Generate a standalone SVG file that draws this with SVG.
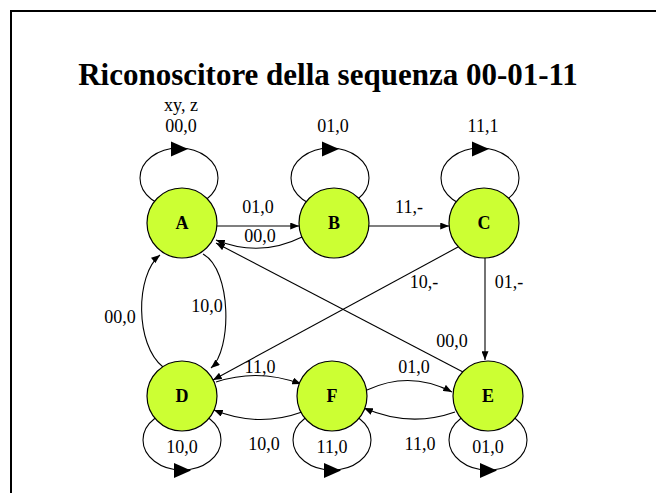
<svg xmlns="http://www.w3.org/2000/svg" width="656" height="493" viewBox="0 0 656 493">
<style>
.node{fill:#CCFF33;stroke:#000;stroke-width:1.2}
.lbl{font-family:'Liberation Serif',Tinos,'DejaVu Serif',serif;font-size:18px;text-anchor:middle;fill:#000}
.nl{font-family:'Liberation Serif',Tinos,'DejaVu Serif',serif;font-size:18px;font-weight:bold;text-anchor:middle;fill:#000}
.title{font-family:'Liberation Serif',Tinos,'DejaVu Serif',serif;font-size:31px;font-weight:bold;text-anchor:middle;fill:#000}
.edge{fill:none;stroke:#000;stroke-width:1.1}
.loop{fill:none;stroke:#000;stroke-width:1.1}
.tri{fill:#000}
</style>
<defs>
<marker id="ah" viewBox="0 0 10 8" refX="10" refY="4" markerWidth="9" markerHeight="7" markerUnits="userSpaceOnUse" orient="auto">
<path d="M0,0 L10,4 L0,8 z" fill="#000"/>
</marker>
</defs>
<rect width="656" height="493" fill="#fff"/>
<path d="M11,493 L11,11 L656,11" fill="none" stroke="#000" stroke-width="2"/>
<text class="title" x="328" y="85">Riconoscitore della sequenza 00-01-11</text>

<g id="loops">
<ellipse class="loop" cx="179" cy="178" rx="39" ry="30"/>
<ellipse class="loop" cx="330" cy="178" rx="39" ry="30"/>
<ellipse class="loop" cx="480" cy="178" rx="39" ry="30"/>
<ellipse class="loop" cx="182" cy="440" rx="39" ry="30"/>
<ellipse class="loop" cx="332" cy="440" rx="39" ry="30"/>
<ellipse class="loop" cx="488" cy="440" rx="39" ry="30"/>
<polygon class="tri" points="171,141.5 171,156.5 188,149"/>
<polygon class="tri" points="322,141.5 322,156.5 339,149"/>
<polygon class="tri" points="472,141.5 472,156.5 489,149"/>
<polygon class="tri" points="174,463 174,478 191,470.5"/>
<polygon class="tri" points="324,463 324,478 341,470.5"/>
<polygon class="tri" points="480,463 480,478 497,470.5"/>
</g>

<g id="connectors">
<path class="edge" d="M217,226 L299,226" marker-end="url(#ah)"/>
<path class="edge" d="M302,237 Q260,258 216,240" marker-end="url(#ah)"/>
<path class="edge" d="M369,226 L449,226" marker-end="url(#ah)"/>
<path class="edge" d="M458,247 L213,380" marker-end="url(#ah)"/>
<path class="edge" d="M463,372 L216,243" marker-end="url(#ah)"/>
<path class="edge" d="M485,258 L485,360" marker-end="url(#ah)"/>
<path class="edge" d="M203,254 C232,270 232,350 211,368" marker-end="url(#ah)"/>
<path class="edge" d="M163,367 C135,345 135,275 160,255" marker-end="url(#ah)"/>
<path class="edge" d="M216,382 Q258,368 301,384" marker-end="url(#ah)"/>
<path class="edge" d="M302,412 Q258,428 214,410" marker-end="url(#ah)"/>
<path class="edge" d="M367,390 Q410,370 452,392" marker-end="url(#ah)"/>
<path class="edge" d="M455,412 Q410,428 364,408" marker-end="url(#ah)"/>
</g>

<g id="A"><circle class="node" cx="182" cy="223" r="35"/><text class="nl" x="182" y="229">A</text></g>
<g id="B"><circle class="node" cx="334" cy="223" r="35"/><text class="nl" x="334" y="229">B</text></g>
<g id="C"><circle class="node" cx="484" cy="223" r="35"/><text class="nl" x="484" y="229">C</text></g>
<g id="D"><circle class="node" cx="182" cy="396" r="35"/><text class="nl" x="182" y="402">D</text></g>
<g id="F"><circle class="node" cx="332" cy="396" r="35"/><text class="nl" x="332" y="402">F</text></g>
<g id="E"><circle class="node" cx="488" cy="396" r="35"/><text class="nl" x="488" y="402">E</text></g>

<g id="labels">
<text class="lbl" x="181" y="111">xy, z</text>
<text class="lbl" x="181" y="132">00,0</text>
<text class="lbl" x="333" y="132">01,0</text>
<text class="lbl" x="483" y="132">11,1</text>
<text class="lbl" x="258" y="213">01,0</text>
<text class="lbl" x="260" y="242">00,0</text>
<text class="lbl" x="409" y="213">11,-</text>
<text class="lbl" x="424" y="288">10,-</text>
<text class="lbl" x="509" y="288">01,-</text>
<text class="lbl" x="452" y="347">00,0</text>
<text class="lbl" x="207" y="312">10,0</text>
<text class="lbl" x="120" y="323">00,0</text>
<text class="lbl" x="260" y="373">11,0</text>
<text class="lbl" x="414" y="373">01,0</text>
<text class="lbl" x="182" y="453">10,0</text>
<text class="lbl" x="264" y="450">10,0</text>
<text class="lbl" x="332" y="453">11,0</text>
<text class="lbl" x="420" y="450">11,0</text>
<text class="lbl" x="488" y="453">01,0</text>
</g>
</svg>
